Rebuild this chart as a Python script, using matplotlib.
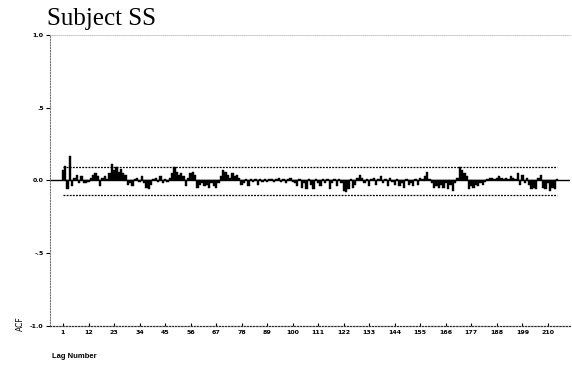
import numpy as np
import matplotlib
matplotlib.use("Agg")
from matplotlib import pyplot as plt

# autocorrelation by lag
acf = [
    0.07, 0.10, -0.06, 0.17, -0.04, 0.02, 0.04, -0.02, 0.03, -0.02,
    -0.02, -0.01, 0.02, 0.04, 0.05, 0.03, -0.04, 0.02, 0.03, 0.01,
    0.05, 0.11, 0.07, 0.09, 0.06, 0.08, 0.05, 0.04, -0.03, -0.02,
    -0.04, 0.01, 0.02, -0.01, 0.03, -0.02, -0.05, -0.06, -0.03, 0.01,
    0.02, -0.01, 0.03, -0.02, 0.01, -0.01, 0.02, 0.05, 0.09, 0.06,
    0.04, 0.05, 0.03, -0.04, 0.02, 0.05, 0.06, 0.04, -0.05, -0.03,
    -0.02, -0.04, -0.03, -0.05, -0.02, -0.04, -0.05, -0.02, 0.03, 0.07,
    0.06, 0.04, 0.02, 0.05, 0.03, 0.04, 0.02, -0.03, -0.02, 0.01,
    -0.04, 0.01, -0.01, 0.01, -0.03, 0.01, -0.01, 0.01, -0.01, 0.01,
    0.01, -0.01, 0.01, 0.02, -0.01, 0.01, -0.02, 0.01, 0.02, -0.01,
    -0.02, -0.04, 0.01, -0.05, -0.02, -0.06, 0.01, -0.03, -0.06, 0.01,
    -0.02, -0.04, 0.01, -0.02, 0.01, -0.06, -0.02, 0.01, -0.04, 0.01,
    -0.02, -0.07, -0.08, -0.06, 0.01, -0.05, -0.03, 0.02, 0.04, 0.02,
    -0.02, 0.01, -0.04, 0.01, 0.02, -0.03, 0.01, 0.03, -0.02, 0.01,
    -0.04, 0.02, -0.01, -0.03, 0.01, -0.04, -0.02, -0.05, 0.01, -0.03,
    -0.02, -0.04, 0.01, -0.03, 0.02, 0.01, 0.03, 0.06, 0.01, -0.02,
    -0.05, -0.04, -0.05, -0.03, -0.05, -0.02, -0.06, -0.03, -0.07, -0.02,
    0.02, 0.09, 0.07, 0.05, 0.03, -0.06, -0.04, -0.05, -0.03, -0.04,
    -0.02, -0.03, -0.01, 0.01, 0.02, 0.02, 0.01, 0.02, 0.03, 0.02,
    0.01, 0.02, 0.01, 0.03, 0.02, 0.01, 0.05, -0.03, 0.04, -0.02,
    0.02, -0.03, -0.06, -0.05, -0.06, 0.02, 0.04, -0.05, -0.06, -0.02,
    -0.07, -0.05, -0.06, 0.01,
]
lags = np.arange(1, len(acf) + 1)
conf_upper = 0.094
conf_lower = -0.10

xtick_lags = [1, 12, 23, 34, 45, 56, 67, 78, 89, 100, 111, 122, 133, 144,
              155, 166, 177, 188, 199, 210]
ytick_vals = [-1.0, -0.5, 0.0, 0.5, 1.0]
ytick_labels = ["-1.0", "-.5", "0.0", ".5", "1.0"]

fig = plt.figure(figsize=(5.72, 3.71), dpi=100)
ax = fig.add_axes([0.0874, 0.1213, 0.909, 0.7844])

ax.bar(lags, acf, width=1.0, color="black", edgecolor="black", linewidth=0.3)
ax.axhline(0, color="black", linewidth=1.0)
ax.plot(lags, [conf_upper] * len(lags), color="black", linewidth=0.9,
        linestyle=(0, (1.5, 1.0)))
ax.plot(lags, [conf_lower] * len(lags), color="black", linewidth=0.9,
        linestyle=(0, (1.5, 1.0)))

ax.set_xlim(-4.6, 219.5)
ax.set_ylim(-1.0, 1.0)

ax.set_xticks(xtick_lags)
ax.set_xticklabels([str(v) for v in xtick_lags], fontsize=4.5,
                   fontweight="bold", family="DejaVu Sans")
ax.set_yticks(ytick_vals)
ax.set_yticklabels(ytick_labels, fontsize=4.5, fontweight="bold",
                   family="DejaVu Sans")
ax.tick_params(axis="x", direction="in", length=2.5, width=0.8, pad=3)
ax.tick_params(axis="y", direction="out", length=3, width=0.8, pad=1.5)

for side in ("left", "bottom", "top"):
    ax.spines[side].set_linestyle((0, (1, 1.5)))
ax.spines["left"].set_color("#777777")
ax.spines["left"].set_linewidth(0.8)
ax.spines["bottom"].set_color("#333333")
ax.spines["bottom"].set_linewidth(0.9)
ax.spines["top"].set_color("#bbbbbb")
ax.spines["top"].set_linewidth(0.6)
ax.spines["right"].set_visible(False)

fig.text(0.083, 0.918, "Subject SS", fontsize=18, family="Liberation Serif",
         ha="left", va="bottom")
fig.text(0.091, 0.038, "Lag Number", fontsize=5.5, fontweight="bold",
         family="Liberation Sans", ha="left", va="center")
fig.text(0.036, 0.108, "ACF", fontsize=5.5, rotation=90,
         family="DejaVu Sans", ha="center", va="bottom")

fig.savefig("out.png", dpi=100)
